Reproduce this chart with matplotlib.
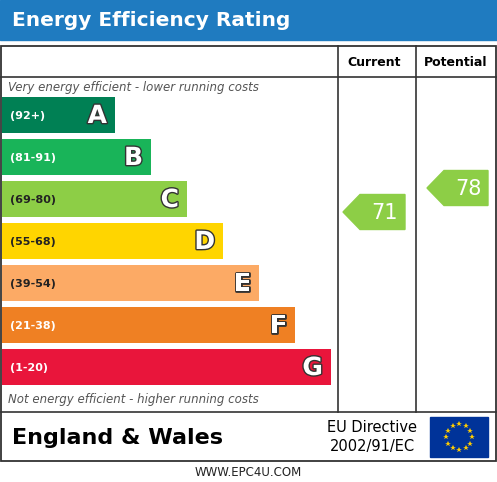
import matplotlib
matplotlib.use("Agg")
import matplotlib.pyplot as plt
import matplotlib.patches as mp
import matplotlib.patheffects as pe
import numpy as np

bands = ["A", "B", "C", "D", "E", "F", "G"]
ranges = ["(92+)", "(81-91)", "(69-80)", "(55-68)", "(39-54)", "(21-38)", "(1-20)"]
lows = [92, 81, 69, 55, 39, 21, 1]
colors = ["#008054", "#19b459", "#8dce46", "#ffd500", "#fcaa65", "#ef8023", "#e9153b"]
current = 71
potential = 78

fig = plt.figure(figsize=(4.97, 4.82), dpi=100)
ax = fig.add_axes([0, 0, 1, 1])
ax.set_xlim(0, 497); ax.set_ylim(482, 0); ax.axis("off")

# header
ax.add_patch(mp.Rectangle((0, 0), 497, 40, color="#1f7bc0"))
ax.text(12, 21, "Energy Efficiency Rating", color="white", fontsize=14.5, fontweight="bold", va="center")

# table
lc = "#333333"
ax.add_patch(mp.Rectangle((1, 46), 495, 415, fill=False, ec=lc, lw=1.3))
ax.plot([338, 338], [46, 412], color=lc, lw=1.2)
ax.plot([416, 416], [46, 412], color=lc, lw=1.2)
ax.plot([1, 496], [77, 77], color=lc, lw=1.2)
ax.plot([1, 496], [412, 412], color=lc, lw=1.2)
ax.text(374, 62, "Current", ha="center", va="center", fontsize=9, fontweight="bold")
ax.text(456, 62, "Potential", ha="center", va="center", fontsize=9, fontweight="bold")
ax.text(8, 88, "Very energy efficient - lower running costs", fontsize=8.5, style="italic", color="#555555", va="center")
ax.text(8, 400, "Not energy efficient - higher running costs", fontsize=8.5, style="italic", color="#555555", va="center")

ys = [115 + 42 * i for i in range(len(bands))]
widths = [113 + 36 * i for i in range(len(bands))]
ax.barh(ys, widths, left=2, height=36, color=colors)
for y, w, b, r in zip(ys, widths, bands, ranges):
    ax.text(10, y + 1, r, fontsize=8, va="center", color="#222222" if b in "CDE" else "white", fontweight="bold")
    t = ax.text(2 + w - 8, y + 1, b, fontsize=18, ha="right", va="center", color="white", fontweight="bold")
    t.set_path_effects([pe.Stroke(linewidth=2, foreground="#333333"), pe.Normal()])

def band_of(v):
    for i, lo in enumerate(lows):
        if v >= lo:
            return i
    return len(lows) - 1

def arrow(x0, x1, yc, val):
    i = band_of(val)
    h = 35
    pts = [(x0, yc), (x0 + 17, yc - h / 2), (x1, yc - h / 2), (x1, yc + h / 2), (x0 + 17, yc + h / 2)]
    ax.add_patch(mp.Polygon(pts, color=colors[i]))
    ax.text((x0 + 17 + x1) / 2 + 2, yc + 1, str(val), color="white", fontsize=15, ha="center", va="center")

arrow(343, 405, 212, current)
arrow(427, 488, 188, potential)

# bottom row
ax.text(12, 438, "England & Wales", fontsize=16, fontweight="bold", va="center")
ax.text(372, 427, "EU Directive", fontsize=10.5, ha="center", va="center")
ax.text(372, 447, "2002/91/EC", fontsize=10.5, ha="center", va="center")
ax.add_patch(mp.Rectangle((430, 417), 58, 40, color="#003399"))
for k in range(12):
    a = 2 * np.pi * k / 12
    ax.plot(459 + 13 * np.cos(a), 437 + 13 * np.sin(a), marker="*", color="#ffcc00", ms=4, mew=0)

ax.text(248, 473, "WWW.EPC4U.COM", fontsize=8.5, ha="center", va="center", color="#222222")
fig.savefig("out.png", dpi=100)
